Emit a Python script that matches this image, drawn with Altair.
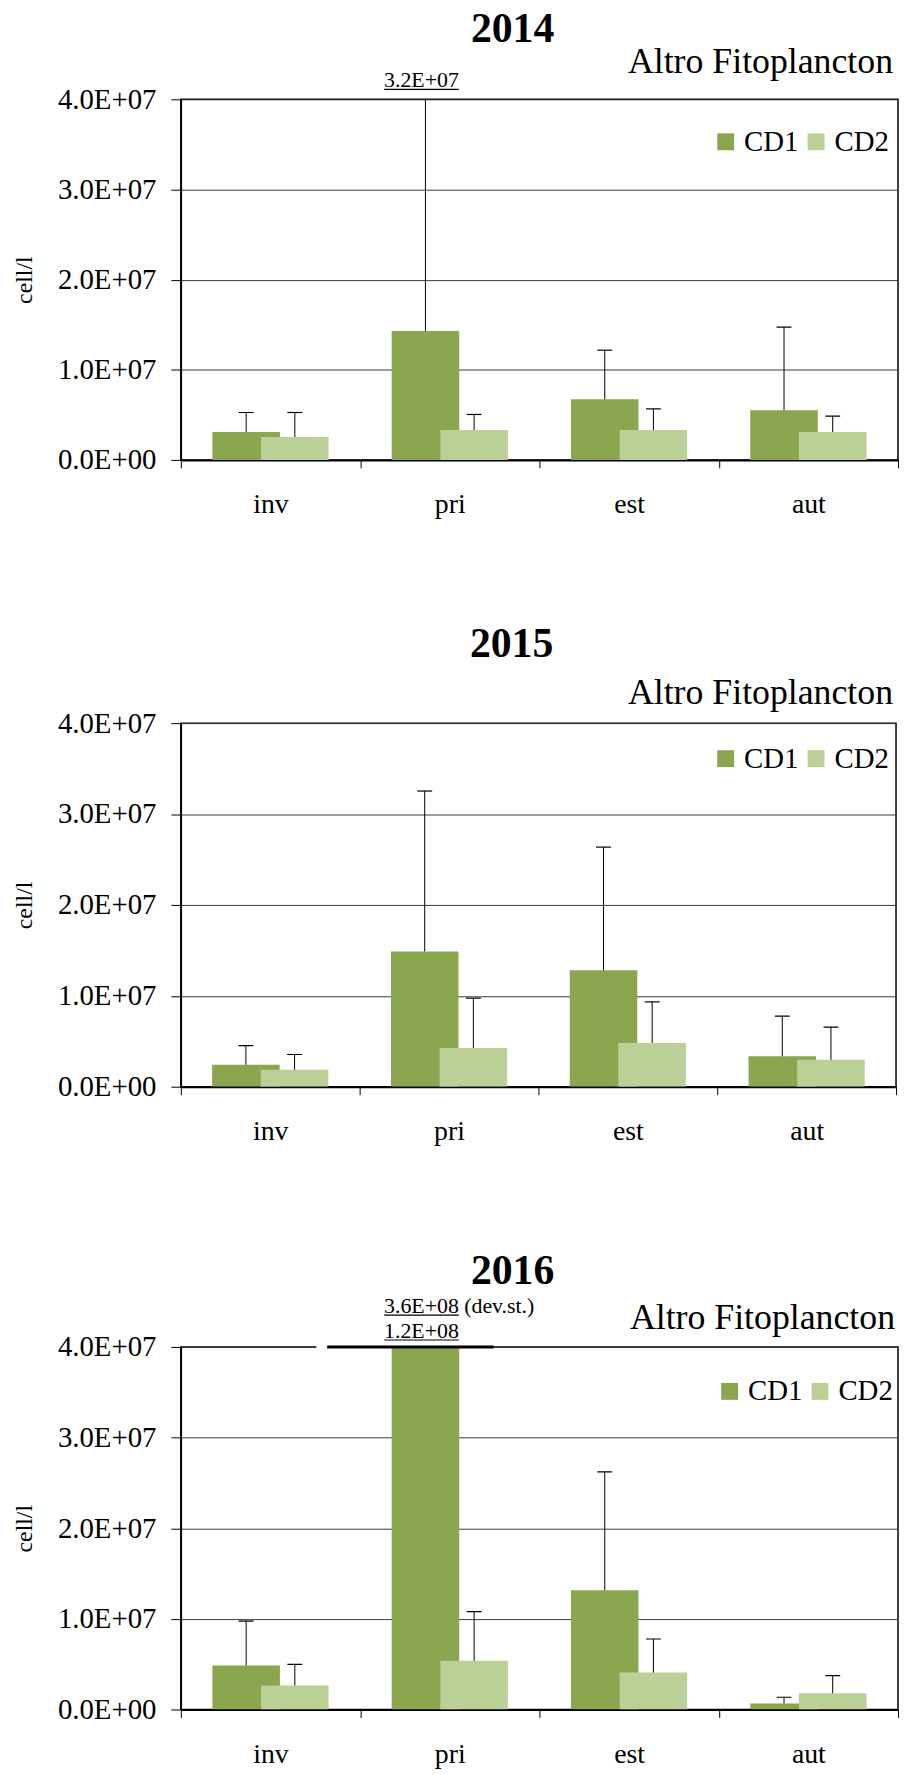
import altair as alt
import pandas as pd

# ---------------- data ----------------
SEASONS = ["inv", "pri", "est", "aut"]
SERIES = ["CD1", "CD2"]
YEARS = ["2014", "2015", "2016"]
SUBTITLE = "Altro Fitoplancton"
Y_TITLE = "cell/l"
COLORS = ["#8AA64F", "#BAD097"]

# mean values (cell/l)
MEAN_2014_CD1 = [3.09e6, 1.43e7, 6.73e6, 5.51e6]
MEAN_2014_CD2 = [2.54e6, 3.31e6, 3.31e6, 3.09e6]
SD_2014_CD1 = [2.17e6, 3.2e7, 5.44e6, 9.23e6]
SD_2014_CD2 = [2.72e6, 1.73e6, 2.35e6, 1.76e6]

MEAN_2015_CD1 = [2.41e6, 1.488e7, 1.280e7, 3.35e6]
MEAN_2015_CD2 = [1.86e6, 4.27e6, 4.81e6, 2.95e6]
SD_2015_CD1 = [2.11e6, 1.765e7, 1.356e7, 4.42e6]
SD_2015_CD2 = [1.68e6, 5.47e6, 4.52e6, 3.61e6]

MEAN_2016_CD1 = [4.86e6, 1.2e8, 1.316e7, 0.67e6]
MEAN_2016_CD2 = [2.65e6, 5.38e6, 4.07e6, 1.79e6]
SD_2016_CD1 = [4.90e6, 3.6e8, 1.305e7, 0.68e6]
SD_2016_CD2 = [2.32e6, 5.42e6, 3.71e6, 1.95e6]

# off-scale annotations (values beyond the axis)
ANN_YEAR = ["2014", "2016", "2016"]
ANN_TEXT = ["3.2E+07", "3.6E+08", "1.2E+08"]
ANN_KIND = ["sd", "sd", "mean"]

TABLE = {
    "2014": (MEAN_2014_CD1, MEAN_2014_CD2, SD_2014_CD1, SD_2014_CD2),
    "2015": (MEAN_2015_CD1, MEAN_2015_CD2, SD_2015_CD1, SD_2015_CD2),
    "2016": (MEAN_2016_CD1, MEAN_2016_CD2, SD_2016_CD1, SD_2016_CD2),
}

rows = []
for yr in YEARS:
    m1, m2, s1, s2 = TABLE[yr]
    for i, s in enumerate(SEASONS):
        rows.append(dict(year=yr, season=s, idx=i, series="CD1", mean=m1[i], sd=s1[i]))
        rows.append(dict(year=yr, season=s, idx=i, series="CD2", mean=m2[i], sd=s2[i]))
df = pd.DataFrame(rows)

FONT = "Liberation Serif"
YMAX = 4e7

# ---------------- panels ----------------
def panel(year, width, height, legend_x, legend_y, sub_x, sub_y, title_offset, title_dx, ann_y):
    pxu = width / 4.0  # pixels per category
    off = 24.5 / pxu
    half = 34.0 / pxu
    cap = 7.5 / pxu

    base = alt.Chart(df).transform_filter(alt.datum.year == year).transform_calculate(
        center=f"datum.idx + 0.5 + (datum.series === 'CD1' ? -{off} : {off})",
    ).transform_calculate(
        x0=f"datum.center - {half}",
        x1=f"datum.center + {half}",
        c0=f"datum.center - {cap}",
        c1=f"datum.center + {cap}",
        top="datum.mean + datum.sd",
        zero="0",
    )

    xscale = alt.Scale(domain=[0, 4], nice=False, zero=False)
    yscale = alt.Scale(domain=[0, YMAX], nice=False)

    cats = ",".join(f"'{c}'" for c in SEASONS)
    xaxis = alt.Axis(
        values=[i * 0.5 for i in range(9)],
        labelExpr=f"datum.value % 1 === 0 ? '' : [{cats}][floor(datum.value)]",
        tickColor={"condition": {"test": "datum.value % 1 !== 0", "value": "transparent"}, "value": "black"},
        tickSize=8, tickWidth=1, grid=False,
        domainColor="black", domainWidth=2,
        labelFont=FONT, labelFontSize=28, labelColor="black",
        labelBaseline="alphabetic", labelPadding=45,
        labelFlush=False, labelOverlap=False, title=None,
    )
    ylabel = ("datum.value === 0 ? '0.0E+00' : "
              "format(datum.value / pow(10, floor(log(datum.value)/LN10 + 1e-9)), '.1f') + 'E+' + "
              "pad(floor(log(datum.value)/LN10 + 1e-9), 2, '0', 'left')")
    yaxis = alt.Axis(
        values=[0, 1e7, 2e7, 3e7, 4e7], labelExpr=ylabel,
        grid=True, gridColor="#3a3a3a", gridWidth=1,
        tickSize=10, tickColor="black", tickWidth=1,
        domainColor="black", domainWidth=1.5,
        labelFont=FONT, labelFontSize=29, labelColor="black", labelPadding=15,
        title=Y_TITLE, titleFont=FONT, titleFontSize=24, titleFontWeight="normal",
        titleColor="black", titlePadding=21,
    )

    def X(field):
        return alt.X(field, type="quantitative", scale=xscale, axis=xaxis)

    def Y(field):
        return alt.Y(field, type="quantitative", scale=yscale, axis=yaxis)

    bars = base.mark_bar(clip=True).encode(
        x=X("x0"),
        x2="x1:Q",
        y=Y("mean"),
        y2="zero:Q",
        color=alt.Color("series:N", scale=alt.Scale(domain=SERIES, range=COLORS),
                        legend=alt.Legend(orient="none", legendX=legend_x, legendY=legend_y,
                                          direction="horizontal", title=None, padding=0,
                                          symbolType="square", symbolSize=289,
                                          symbolStrokeWidth=0, labelFont=FONT,
                                          labelFontSize=29, labelColor="black",
                                          labelOffset=4, columnPadding=3, labelLimit=0)),
    )
    err = base.mark_rule(clip=True, color="black", strokeWidth=1).encode(
        x=X("center"), y=Y("mean"), y2="top:Q",
    )
    caps = base.mark_rule(clip=True, color="black", strokeWidth=1.2).encode(
        x=X("c0"), x2="c1:Q", y=Y("top"),
    )
    sub = alt.Chart(pd.DataFrame({"t": [SUBTITLE]})).mark_text(
        align="right", baseline="alphabetic", font=FONT, fontSize=36, color="black"
    ).encode(x=alt.value(sub_x), y=alt.value(sub_y), text="t:N")

    layers = [bars, err, caps, sub]

    # annotations for off-scale values (above the pri CD1 bar)
    ann = pd.DataFrame({"year": ANN_YEAR, "text": ANN_TEXT, "kind": ANN_KIND})
    ann = ann[ann.year == year]
    if len(ann):
        center_pri = 1 + 0.5 - off
        for _, r in ann.iterrows():
            yb = ann_y[r["kind"]]
            d = pd.DataFrame({"text": [r["text"]], "cx": [center_pri]})
            t = alt.Chart(d).mark_text(align="center", baseline="alphabetic", font=FONT,
                                       fontSize=22, color="black", dx=-4).encode(
                x=X("cx"), y=alt.value(yb), text="text:N")
            u = alt.Chart(d).transform_calculate(
                u0=f"datum.cx - {41.5 / pxu}", u1=f"datum.cx + {33.5 / pxu}"
            ).mark_rule(color="black", strokeWidth=1.2).encode(
                x=X("u0"), x2="u1:Q", y=alt.value(yb + 2))
            layers += [t, u]
            if year == "2016" and r["kind"] == "sd":
                dv = alt.Chart(d.assign(note="(dev.st.)")).mark_text(
                    align="left", baseline="alphabetic", font=FONT, fontSize=22,
                    color="black", dx=39).encode(
                    x=X("cx"), y=alt.value(yb), text="note:N")
                layers.append(dv)
        if year == "2016":
            brk = pd.DataFrame({"a": [0.756], "b": [0.817], "c": [1.744]})
            gap = alt.Chart(brk).mark_rule(color="white", strokeWidth=4).encode(
                x=X("a"), x2="b:Q", y=alt.value(0))
            thick = alt.Chart(brk).mark_rule(color="black", strokeWidth=3).encode(
                x=X("b"), x2="c:Q", y=alt.value(0))
            layers += [gap, thick]

    return alt.layer(*layers).properties(
        width=width, height=height,
        title=alt.TitleParams(year, font=FONT, fontSize=42, fontWeight="bold", color="black",
                              anchor="middle", dx=title_dx, offset=title_offset),
    )


p1 = panel("2014", 722, 363, 534, 28, 717, -27, -7, -27, {"sd": -12, "mean": -12})
p2 = panel("2015", 720, 366, 534, 21, 717, -19, 10, -27, {})
p3 = panel("2016", 722, 365, 538, 30, 719, -18, 2.5, -27, {"sd": -34, "mean": -9})

chart = alt.vconcat(p1, p2, p3, spacing=103).resolve_scale(color="independent").properties(
    padding={"left": 3, "top": -7, "right": 0, "bottom": 0}
).configure_view(stroke="black", strokeWidth=1.5)

chart.save("out.html", embed_options={"renderer": "svg", "actions": False})
